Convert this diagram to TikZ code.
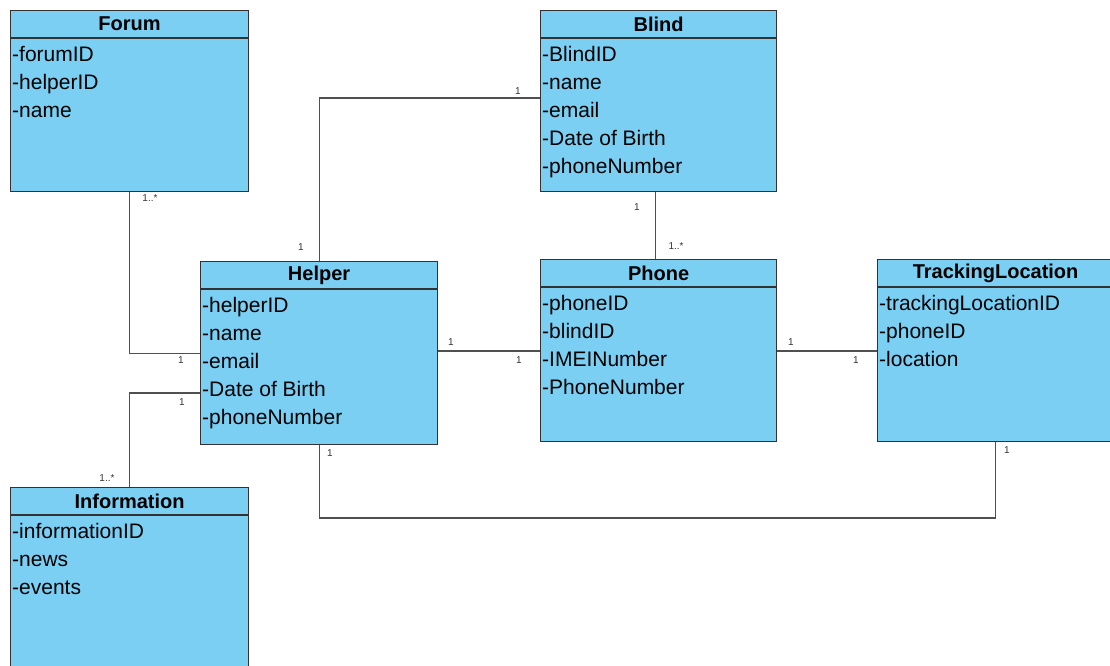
\documentclass[tikz,border=0pt]{standalone}
\usepackage{fontspec}
\setmainfont{Liberation Sans}
\usetikzlibrary{calc}

\definecolor{classfill}{RGB}{122,207,243}
\definecolor{classedge}{RGB}{50,50,50}
\definecolor{linkgray}{RGB}{80,80,80}

\tikzset{
  classbox/.style={draw=classedge, fill=classfill, line width=1.2pt, inner sep=0pt},
  classline/.style={draw=classedge, line width=1.2pt},
  classtitle/.style={font=\fontsize{20}{24}\selectfont\bfseries, inner sep=0pt},
  classattr/.style={font=\fontsize{21}{28}\selectfont, align=left, inner sep=0pt, anchor=north west},
  assoc/.style={draw=linkgray, line width=1.1pt},
  mult/.style={font=\fontsize{10}{12}\selectfont, inner sep=0pt, text=black!80}
}

% one class: name, x, y, width, height, title, attributes
\newcommand{\umlclass}[7]{%
  \node[classbox, minimum width=#4pt, minimum height=#5pt, anchor=north west] (#1) at (#2,#3) {};
  \draw[classline] ([yshift=-28pt]#1.north west) -- ([yshift=-28pt]#1.north east);
  \node[classtitle] (#1-title) at ([yshift=-14pt]#1.north) {#6};
  \node[classattr] (#1-attrs) at ([xshift=2pt,yshift=-36.5pt]#1.north west) {#7};
}

\begin{document}
\begin{tikzpicture}[x=1pt,y=-1pt]
  \useasboundingbox (0,0) rectangle (1110,666);

  \umlclass{forum}{10}{10}{238}{181}{Forum}{-forumID\\-helperID\\-name}
  \umlclass{blind}{540}{10}{236}{181}{Blind}{-BlindID\\-name\\-email\\-Date of Birth\\-phoneNumber}
  \umlclass{helper}{200}{261}{237}{183}{Helper}{-helperID\\-name\\-email\\-Date of Birth\\-phoneNumber}
  \umlclass{phone}{540}{259}{236}{182}{Phone}{-phoneID\\-blindID\\-IMEINumber\\-PhoneNumber}
  \umlclass{track}{877}{259}{236}{182}{TrackingLocation}{-trackingLocationID\\-phoneID\\-location}
  \umlclass{info}{10}{487}{238}{200}{Information}{-informationID\\-news\\-events}

  % associations
  \coordinate (lowrail) at (0,518);
  \draw[assoc] ([yshift=-88pt]blind.north west) -| (helper.north);
  \draw[assoc] (forum.south) |- (helper.west);
  \draw[assoc] ([yshift=-132pt]helper.north west) -| (info.north);
  \draw[assoc] ([xshift=-3pt]blind.south) -- ([xshift=-3pt]phone.north);
  \draw[assoc] (helper.east |- 0,351) -- (phone.west |- 0,351);
  \draw[assoc] (phone.east |- 0,351) -- (track.west |- 0,351);
  \draw[assoc] (helper.south) |- (lowrail -| track.south) -- (track.south);

  % multiplicities
  \node[mult] (m-bh1) at (518,91) {1};
  \node[mult] (m-bh2) at (301,247) {1};
  \node[mult] (m-fh1) at (150,198) {1..*};
  \node[mult] (m-fh2) at (181,360) {1};
  \node[mult] (m-hi1) at (182,402) {1};
  \node[mult] (m-hi2) at (107,478) {1..*};
  \node[mult] (m-bp1) at (637,207) {1};
  \node[mult] (m-bp2) at (676,246) {1..*};
  \node[mult] (m-hp1) at (451,342) {1};
  \node[mult] (m-hp2) at (519,360) {1};
  \node[mult] (m-pt1) at (791,342) {1};
  \node[mult] (m-pt2) at (856,360) {1};
  \node[mult] (m-ht1) at (330,453) {1};
  \node[mult] (m-ht2) at (1007,450) {1};
\end{tikzpicture}
\end{document}
